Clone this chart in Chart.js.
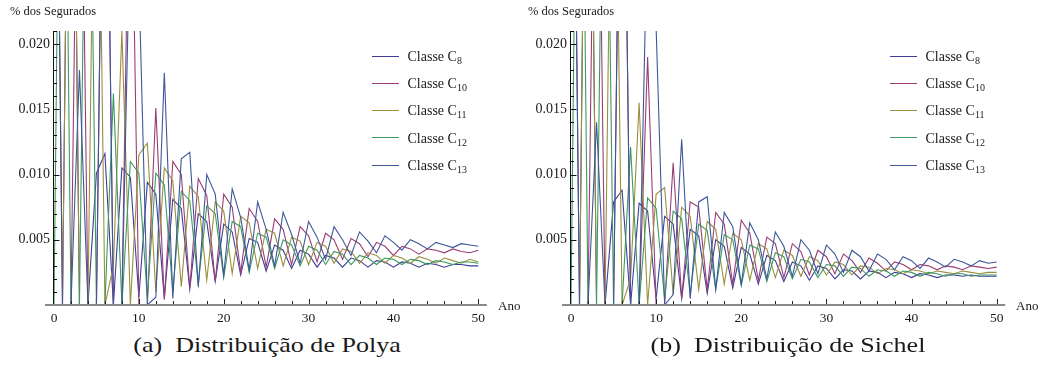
<!DOCTYPE html>
<html><head><meta charset="utf-8">
<script src="https://cdn.jsdelivr.net/npm/chart.js@4.4.1/dist/chart.umd.min.js"></script>
<style>
html,body{margin:0;padding:0;background:#fff;}
body{width:1043px;height:369px;position:relative;overflow:hidden;font-family:"Liberation Serif","Times New Roman",serif;color:#1a1a1a;}
canvas{position:absolute;top:0;}
.t{position:absolute;white-space:nowrap;line-height:1;}
.ylab{font-size:12.5px;}
.xlab{font-size:13px;}
.legtxt{position:absolute;font-size:14px;white-space:nowrap;line-height:1;}
.legtxt sub{font-size:10px;vertical-align:baseline;position:relative;top:3px;}
.legline{position:absolute;width:27px;height:1px;}
.cap{position:absolute;font-size:21px;white-space:nowrap;line-height:1;width:400px;text-align:center;transform:scaleX(1.24);transform-origin:50% 50%;}
</style></head><body>
<canvas id="cA" width="521" height="330" style="left:0px;width:521px;height:330px"></canvas>
<canvas id="cB" width="526" height="330" style="left:517px;width:526px;height:330px"></canvas>
<div class="t ylab" style="left:10px;top:5px">% dos Segurados</div>
<div class="t ylab" style="left:528px;top:5px">% dos Segurados</div>
<div class="t xlab" style="left:498px;top:299px">Ano</div>
<div class="t xlab" style="left:1016px;top:299px">Ano</div>
<div class="cap" style="left:66.5px;top:335px">(a)&nbsp; Distribuição de Polya</div>
<div class="cap" style="left:587.5px;top:335px">(b)&nbsp; Distribuição de Sichel</div>
<div id="legs"></div>
<script>
// ---------- data ----------
const years = Array.from({length:51},(_,i)=>i);
const xTickValues = [0,10,20,30,40,50];
const xTickLabels = ['0','10','20','30','40','50'];
const yTickValues = [0.005,0.010,0.015,0.020];
const yTickLabels = ['0.005','0.010','0.015','0.020'];
const classNames = ['Classe C8','Classe C10','Classe C11','Classe C12','Classe C13'];
const classSubs = ['8','10','11','12','13'];
const classColors = ['#3f3d99','#993d74','#998f3d','#3d9962','#3d5799'];

// Distribuição de Polya
const polyaC8 = [0,0,0.06, 0,0,0.0101, 0.0116,0,0.0105, 0.0098,0.0006,0.0094, 0.0085,0.0005,0.0081,
  0.0074,0.0012,0.0070, 0.0064,0.0018,0.0062, 0.0056,0.0023,0.0051, 0.0048,0.0026,0.0046,
  0.0042,0.0028,0.0042, 0.0039,0.0029,0.0038, 0.0036,0.0029,0.0036, 0.0034,0.0029,0.0034,
  0.0033,0.0029,0.0033, 0.0032,0.0029,0.0032, 0.0031,0.0029,0.0031, 0.0031,0.0030,0.0030];
const polyaC10 = [0.06,0,0, 0.05,0,0, 0.05,0,0, 0.04,0,0, 0.0151,0.0004,0.0110,
  0.0100,0.0013,0.0097, 0.0084,0.0018,0.0085, 0.0075,0.0025,0.0074, 0.0064,0.0029,0.0066,
  0.0058,0.0031,0.0060, 0.0053,0.0033,0.0055, 0.0050,0.0035,0.0051, 0.0047,0.0037,0.0048,
  0.0045,0.0038,0.0045, 0.0043,0.0039,0.0043, 0.0042,0.0040,0.0043, 0.0041,0.0040,0.0042];
const polyaC11 = [0,0,0.06, 0,0,0.05, 0,0.003,0.021, 0,0.0115,0.0124, 0.0010,0.0105,0.0095,
  0.0014,0.0091,0.0083, 0.0019,0.0079,0.0072, 0.0024,0.0068,0.0063, 0.0028,0.0058,0.0055,
  0.0030,0.0052,0.0049, 0.0031,0.0048,0.0045, 0.0032,0.0043,0.0041, 0.0032,0.0040,0.0038,
  0.0032,0.0038,0.0036, 0.0032,0.0037,0.0035, 0.0032,0.0036,0.0034, 0.0032,0.0035,0.0033];
const polyaC12 = [0,0.06,0, 0,0.05,0, 0,0.0162,0, 0.0110,0.0101,0.0005, 0.0101,0.0092,0.0010,
  0.0087,0.0080,0.0016, 0.0076,0.0070,0.0021, 0.0064,0.0060,0.0025, 0.0055,0.0052,0.0028,
  0.0050,0.0046,0.0030, 0.0045,0.0042,0.0031, 0.0041,0.0039,0.0031, 0.0038,0.0036,0.0031,
  0.0036,0.0035,0.0031, 0.0035,0.0034,0.0031, 0.0034,0.0033,0.0031, 0.0033,0.0033,0.0032];
const polyaC13 = [0.06,0,0, 0.018,0,0, 0.05,0,0, 0.03,0.025,0, 0.0006,0.0178,0.0005,
  0.0112,0.0117,0.0014, 0.0100,0.0085,0.0023, 0.0089,0.0067,0.0027, 0.0079,0.0058,0.0030,
  0.0071,0.0054,0.0032, 0.0064,0.0052,0.0035, 0.0060,0.0050,0.0038, 0.0056,0.0049,0.0040,
  0.0053,0.0048,0.0042, 0.0050,0.0047,0.0043, 0.0048,0.0046,0.0044, 0.0047,0.0046,0.0045];

// Distribuição de Sichel
const sichelC8 = [0,0,0.06, 0,0,0.0079, 0.0088,0,0.0078, 0.0072,0.0005,0.0068, 0.0062,0.0005,0.0058,
  0.0053,0.0009,0.0050, 0.0045,0.0013,0.0044, 0.0039,0.0016,0.0038, 0.0034,0.0018,0.0033,
  0.0030,0.0019,0.0030, 0.0028,0.0020,0.0027, 0.0026,0.0020,0.0026, 0.0025,0.0021,0.0025,
  0.0024,0.0021,0.0024, 0.0023,0.0021,0.0023, 0.0023,0.0022,0.0023, 0.0022,0.0022,0.0022];
const sichelC10 = [0.06,0,0, 0.05,0,0, 0.05,0,0, 0.019,0,0, 0.0109,0.0005,0.0079,
  0.0075,0.0012,0.0071, 0.0062,0.0016,0.0065, 0.0055,0.0019,0.0052, 0.0047,0.0021,0.0047,
  0.0041,0.0023,0.0042, 0.0037,0.0024,0.0039, 0.0034,0.0025,0.0036, 0.0032,0.0026,0.0033,
  0.0031,0.0027,0.0031, 0.0030,0.0027,0.0030, 0.0029,0.0027,0.0030, 0.0029,0.0028,0.0029];
const sichelC11 = [0,0,0.06, 0,0,0.05, 0,0.002,0.0155, 0,0.0085,0.0090, 0.0008,0.0075,0.0068,
  0.0012,0.0064,0.0058, 0.0016,0.0055,0.0050, 0.0019,0.0047,0.0043, 0.0021,0.0042,0.0038,
  0.0022,0.0037,0.0034, 0.0023,0.0033,0.0031, 0.0023,0.0030,0.0029, 0.0024,0.0028,0.0027,
  0.0024,0.0027,0.0026, 0.0024,0.0026,0.0025, 0.0024,0.0026,0.0025, 0.0024,0.0025,0.0025];
const sichelC12 = [0,0.06,0, 0,0.05,0, 0,0.0121,0, 0.0082,0.0074,0.0004, 0.0072,0.0066,0.0008,
  0.0062,0.0057,0.0012, 0.0054,0.0050,0.0015, 0.0046,0.0043,0.0018, 0.0040,0.0037,0.0020,
  0.0035,0.0033,0.0021, 0.0031,0.0030,0.0022, 0.0029,0.0028,0.0022, 0.0027,0.0026,0.0022,
  0.0026,0.0025,0.0022, 0.0025,0.0024,0.0022, 0.0024,0.0024,0.0022, 0.0023,0.0023,0.0023];
const sichelC13 = [0.06,0,0, 0.014,0,0, 0.05,0,0, 0.03,0.0212,0, 0.0008,0.0127,0.0005,
  0.0079,0.0083,0.0012, 0.0071,0.0060,0.0016, 0.0063,0.0050,0.0020, 0.0056,0.0045,0.0022,
  0.0050,0.0042,0.0024, 0.0046,0.0039,0.0025, 0.0042,0.0037,0.0026, 0.0039,0.0035,0.0027,
  0.0037,0.0034,0.0028, 0.0036,0.0033,0.0029, 0.0035,0.0033,0.0030, 0.0034,0.0032,0.0033];

const polyaSeries = [polyaC8, polyaC10, polyaC11, polyaC12, polyaC13];
const sichelSeries = [sichelC8, sichelC10, sichelC11, sichelC12, sichelC13];

// ---------- axes drawn Mathematica-style using the chart's scales ----------
const mmaAxes = {
  id: 'mmaAxes',
  afterDatasetsDraw(chart) {
    const {ctx, chartArea: a, scales: {x, y}} = chart;
    ctx.save();
    const y0 = Math.round(y.getPixelForValue(0));
    ctx.strokeStyle = '#111'; ctx.lineWidth = 1;
    ctx.beginPath();
    ctx.moveTo(a.left - 0.5, a.top); ctx.lineTo(a.left - 0.5, y0);
    y.ticks.forEach(t => {
      if (t.value <= 0) return;
      const py = Math.round(y.getPixelForValue(t.value)) + 0.5;
      const major = yTickValues.some(v => Math.abs(v - t.value) < 1e-9);
      ctx.moveTo(a.left - 1, py); ctx.lineTo(a.left + (major ? 5.5 : 3), py);
    });
    ctx.stroke();
    ctx.strokeStyle = '#8a8a8a'; ctx.lineWidth = 2;
    ctx.beginPath(); ctx.moveTo(a.left - 9, y0); ctx.lineTo(a.right, y0); ctx.stroke();
    ctx.strokeStyle = '#222'; ctx.lineWidth = 1;
    ctx.beginPath();
    x.ticks.forEach(t => {
      if (t.value <= 0 || t.value > 50) return;
      const px = Math.round(x.getPixelForValue(t.value)) + 0.5;
      const major = xTickValues.includes(t.value);
      ctx.moveTo(px, y0 - 1); ctx.lineTo(px, y0 - 1 - (major ? 5 : 3));
    });
    ctx.stroke();
    ctx.restore();
  }
};

function makeChart(id, seriesList, padRight) {
  return new Chart(document.getElementById(id), {
    type: 'line',
    data: {
      datasets: seriesList.map((vals, i) => ({
        label: classNames[i],
        data: years.map((yr, j) => ({x: yr, y: vals[j]})),
        borderColor: classColors[i],
        borderWidth: 1.1,
        pointRadius: 0,
        tension: 0,
        fill: false,
        order: seriesList.length - i
      }))
    },
    options: {
      responsive: false, animation: false, devicePixelRatio: 1,
      layout: {padding: {left: 0, top: 31, right: padRight, bottom: 0}},
      plugins: {legend: {display: false}, tooltip: {enabled: false}},
      scales: {
        x: {
          type: 'linear', min: 0, max: 51,
          grid: {display: false, drawTicks: false}, border: {display: false},
          afterFit: s => { s.height = 25; },
          ticks: {
            stepSize: 2, autoSkip: false, maxRotation: 0, includeBounds: false, padding: 5,
            color: '#1a1a1a', font: {family: 'Liberation Serif', size: 13.5},
            callback: v => { const k = xTickValues.indexOf(v); return k >= 0 ? xTickLabels[k] : ''; }
          }
        },
        y: {
          type: 'linear', min: 0, max: 0.021,
          grid: {display: false, drawTicks: false}, border: {display: false},
          afterFit: s => { s.width = 54; },
          ticks: {
            stepSize: 0.001, autoSkip: false, includeBounds: false, padding: 4,
            color: '#1a1a1a', font: {family: 'Liberation Serif', size: 14},
            callback: v => { const k = yTickValues.findIndex(t => Math.abs(t - v) < 1e-9); return k >= 0 ? yTickLabels[k] : ''; }
          }
        }
      }
    },
    plugins: [mmaAxes]
  });
}
makeChart('cA', polyaSeries, 34.2);
makeChart('cB', sichelSeries, 37.8);

// ---------- legends ----------
const legRows = [56.7, 83.6, 110.7, 137.8, 165.2];
const legs = document.getElementById('legs');
[372, 890].forEach(lx => {
  classNames.forEach((nm, i) => {
    const ln = document.createElement('div');
    ln.className = 'legline';
    ln.style.left = lx + 'px'; ln.style.top = (legRows[i] - 0.5) + 'px';
    ln.style.background = classColors[i];
    legs.appendChild(ln);
    const tx = document.createElement('div');
    tx.className = 'legtxt';
    tx.style.left = (lx + 35.5) + 'px'; tx.style.top = (legRows[i] - 6.3) + 'px';
    tx.innerHTML = 'Classe C<sub>' + classSubs[i] + '</sub>';
    legs.appendChild(tx);
  });
});
</script>
</body></html>
